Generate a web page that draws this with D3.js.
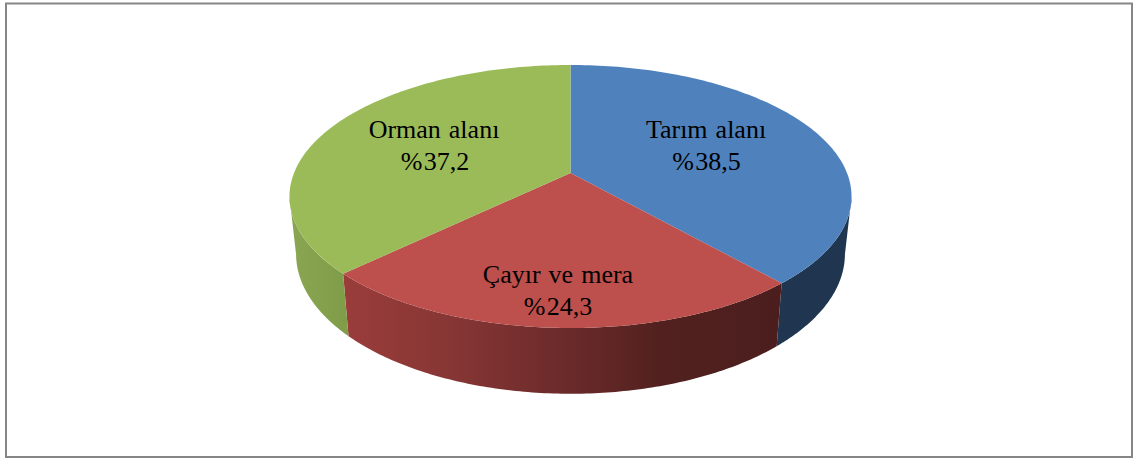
<!DOCTYPE html>
<html><head><meta charset="utf-8">
<script src="https://cdn.jsdelivr.net/npm/d3@7"></script>
<style>html,body{margin:0;padding:0;background:#fff}svg{display:block}text{font-family:"Liberation Serif",serif;fill:#000}</style>
</head><body><svg id="c" width="1133" height="458"></svg>
<script>
const categories = ["Tarım alanı", "Çayır ve mera", "Orman alanı"];
const values = [38.5, 24.3, 37.2];
const valueLabels = ["%38,5", "%24,3", "%37,2"];
const topColors = ["#4f81bd", "#bd4f4c", "#9bbb59"];

const svg = d3.select("#c");
svg.append("rect").attr("x",6).attr("y",3.5).attr("width",1126).attr("height",453.5)
  .attr("fill","#fff").attr("stroke","#868686").attr("stroke-width",2);

const defs = svg.append("defs");
function grad(id, x1, x2, stops){
  const g = defs.append("linearGradient").attr("id",id).attr("gradientUnits","userSpaceOnUse")
    .attr("x1",x1).attr("x2",x2).attr("y1",0).attr("y2",0);
  stops.forEach(s=>g.append("stop").attr("offset",s[0]).attr("stop-color",s[1]));
}
grad("w0",776,852,[[0,"#1f3550"],[1,"#1f3550"]]);
grad("w1",342,782,[[0,"#9a3d3b"],[0.25,"#863634"],[0.52,"#6a2a2a"],[0.72,"#52211f"],[1,"#4b1e1d"]]);
grad("w2",290,347,[[0,"#8aa653"],[1,"#7f9c49"]]);

const cx = 570.5, persp = -0.1787;
const project = (a, plane) => {
  const X = Math.sin(a), Y = -Math.cos(a), d = 1 + persp*Y;
  return [cx + plane.s*X/d, (plane.a*Y + plane.b)/d];
};
const topPlane = {s:276.5, a:96.4, b:173};
const botPlane = {s:270, a:94.4, b:229};

const pie = d3.pie().sort(null)(values);
const line = d3.line();
const arcPts = (a0,a1,plane) => d3.range(0,121).map(i=>project(a0+(a1-a0)*i/120,plane));
const rad = d => d*Math.PI/180;

const wallRange = [
  [rad(100.5), pie[0].endAngle],
  [pie[1].startAngle, pie[1].endAngle],
  [pie[2].startAngle, rad(259.5)]
];
wallRange.forEach((r,i)=>{
  const pts = arcPts(r[0],r[1],topPlane).concat(arcPts(r[1],r[0],botPlane));
  svg.append("path").attr("d",line(pts)+"Z").attr("fill",`url(#w${i})`);
});

pie.forEach((p,i)=>{
  const pts = [[cx,topPlane.b]].concat(arcPts(p.startAngle,p.endAngle,topPlane));
  svg.append("path").attr("d",line(pts)+"Z").attr("fill",topColors[i]);
});

const labelPos = [[706,138,706.5,170],[558,283,558,314.5],[434,138,435,170]];
categories.forEach((c,i)=>{
  const l = labelPos[i];
  svg.append("text").attr("x",l[0]).attr("y",l[1]).attr("text-anchor","middle")
    .attr("font-size",26).attr("word-spacing",1.5).text(c);
  const v = svg.append("text").attr("x",l[2]).attr("y",l[3]).attr("text-anchor","middle").attr("font-size",26);
  v.append("tspan").text(valueLabels[i].slice(0,1));
  v.append("tspan").attr("dx",1.5).text(valueLabels[i].slice(1));
});
</script></body></html>
